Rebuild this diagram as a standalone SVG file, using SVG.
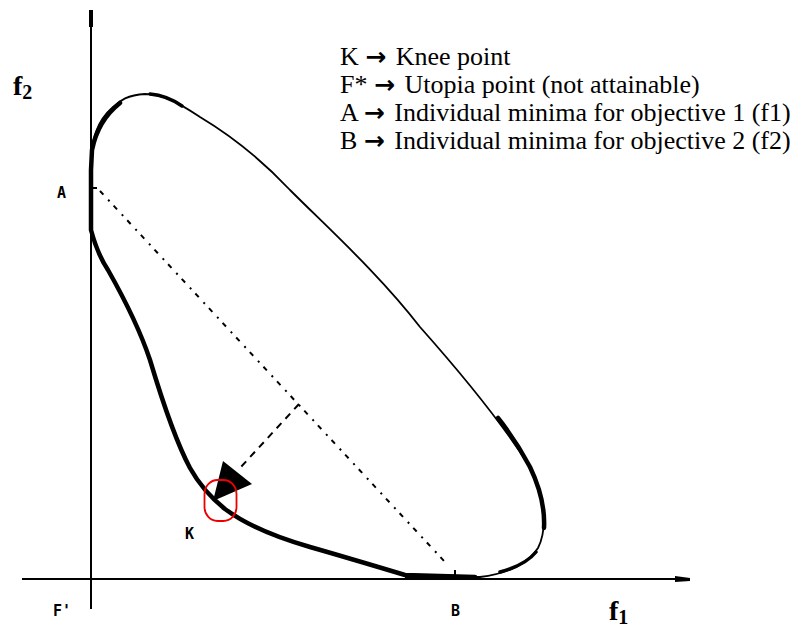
<svg xmlns="http://www.w3.org/2000/svg" width="806" height="628" viewBox="0 0 806 628">
<style>
.axis{stroke:#000;stroke-width:2;fill:none}
.thin{stroke:#000;stroke-width:1.8;fill:none;stroke-linejoin:round}
.thick{stroke:#000;stroke-width:4.5;fill:none;stroke-linejoin:round;stroke-linecap:round}
.mid{stroke:#000;stroke-width:3.5;fill:none;stroke-linejoin:round;stroke-linecap:round}
.dotted{stroke:#000;stroke-width:2;fill:none;stroke-dasharray:5 7 2 6}
.dashed{stroke:#000;stroke-width:2;fill:none;stroke-dasharray:7 6}
.legend{font-family:"Liberation Serif","Times New Roman",serif;font-size:26px;fill:#000}
.arr{font-family:"DejaVu Sans",sans-serif;font-weight:bold;font-size:25px}
.axlabel{font-family:"Liberation Serif","Times New Roman",serif;font-size:28px;font-weight:bold;fill:#000}
.pt{font-family:"DejaVu Sans Mono","Liberation Mono",monospace;font-size:15px;font-weight:bold;fill:#000}
</style>
<rect width="806" height="628" fill="#fff"/>
<g id="axes">
  <line class="axis" x1="91" y1="10" x2="91" y2="609"/>
  <line class="axis" x1="22" y1="579" x2="688" y2="579"/>
  <rect x="89" y="10" width="4" height="17" fill="#000"/>
  <polygon points="675,576 690,578 690,581 675,582" fill="#000"/>
</g>
<g id="region">
  <path class="thin" d="M91,160 C91,140 98,120 112,108 C120,100 128,95 145,94 C165,94 180,104 200,117 C230,135 260,158 290,190 C330,230 380,275 420,327 C460,372 500,420 530,467 C545,495 548,528 538,548 C528,564 506,574 480,577 L405,577"/>
  <path class="thick" d="M120,103 C106,114 96,130 92,150 L91,170 L91,230 C95,245 100,258 108,270 C125,300 140,330 150,360 C162,400 175,440 190,468 C200,486 210,497 225,509 C245,524 275,537 310,547 C345,557 375,566 405,575 L475,577"/>
  <path class="mid" d="M150,94 C162,95 172,99 182,106"/>
  <path class="thick" d="M498,418 C510,433 520,448 530,467 C540,488 545,510 544,528"/>
  <path class="mid" d="M500,572 C515,568 528,562 536,552"/>
</g>
<g id="connectors">
  <line class="axis" x1="91" y1="188" x2="97" y2="188"/>
  <line class="axis" x1="455" y1="570" x2="455" y2="578"/>
  <line class="dotted" x1="100" y1="191" x2="445" y2="562"/>
  <line class="dashed" x1="299" y1="404" x2="240" y2="468"/>
  <polygon points="223,461 252,484 213,501" fill="#000"/>
</g>
<g id="knee">
  <rect x="204.5" y="480" width="32" height="41" rx="13" ry="14" fill="none" stroke="#e00" stroke-width="1.8"/>
</g>
<g id="labels">
  <text class="axlabel" x="13" y="95">f<tspan font-size="20" dy="4">2</tspan></text>
  <text class="axlabel" x="609" y="620">f<tspan font-size="20" dy="4">1</tspan></text>
  <text class="pt" x="57" y="198">A</text>
  <text class="pt" x="185" y="539">K</text>
  <text class="pt" x="53" y="616">F'</text>
  <text class="pt" x="451" y="616">B</text>
</g>
<g id="legend">
  <text class="legend" x="340" y="65">K <tspan class="arr">→</tspan><tspan dx="3"> Knee point</tspan></text>
  <text class="legend" x="340" y="93">F* <tspan class="arr">→</tspan><tspan dx="3"> Utopia point (not attainable)</tspan></text>
  <text class="legend" x="340" y="121">A <tspan class="arr">→</tspan><tspan dx="3"> Individual minima for objective 1 (f1)</tspan></text>
  <text class="legend" x="340" y="149">B <tspan class="arr">→</tspan><tspan dx="3"> Individual minima for objective 2 (f2)</tspan></text>
</g>
</svg>
